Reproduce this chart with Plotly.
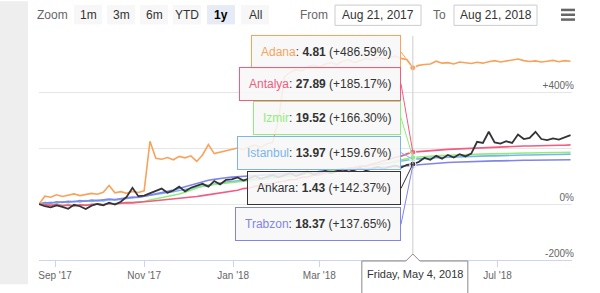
import plotly.graph_objects as go
import pandas as pd

# ---------------- data ----------------
START = "2017-08-21"
END = "2018-08-21"
dates = pd.date_range(START, periods=92, freq="4D")

series_names = ["Adana", "Antalya", "Izmir", "Istanbul", "Ankara", "Trabzon"]
series_colors = ["#f7a35c", "#f15c80", "#90ed7d", "#7cb5ec", "#333338", "#8085e9"]

adana = [0, 28, 24, 33, 27, 31, 36, 30, 34, 38,
         35, 42, 66, 40, 44, 38, 45, 41, 47,
         224,
         163, 160, 166, 158, 170, 165, 172, 152, 175, 212, 180, 185, 190,
         196, 200, 194, 205, 210, 202, 215, 220,
         300, 455, 470, 480, 475, 490, 495, 488, 500, 505, 498, 510, 515, 505, 512, 520, 515, 525, 518, 522, 528, 520, 515,
         486.59,
         495, 498, 500, 510, 503, 505, 500, 507, 504, 502, 506, 503, 508, 512, 507, 510, 514, 518, 512, 509, 511, 507, 510, 513, 508, 512, 510]

antalya = [0, -3, -5, -2, -6, -4, -7, -3, -5, -2, 0, -3, 2, 0, 3, 5, 4, 7, 8,
           10, 12, 14, 15, 18, 20, 22, 25, 27, 30, 33, 36, 40, 43,
           47, 49, 55, 57, 63, 65, 71, 73, 79, 81, 87, 88, 95, 97, 103, 104, 111, 113, 119, 120, 127, 129, 135, 136, 143, 147, 155, 159, 167, 171, 179,
           185.17,
           187, 189, 190, 192, 193, 195, 196, 197, 199, 200, 201, 202, 203, 203, 204, 205, 205, 206, 207, 207, 208, 208, 209, 209, 210, 210, 211]

izmir = [0, -2, -4, -1, -5, -3, -6, -2, -4, -1, 0, -2, 1, 2, 3, 4, 6, 7, 9,
         14, 18, 22, 26, 30, 36, 42, 50, 58, 64, 68, 70, 72, 74,
         76, 78, 80, 83, 85, 88, 90, 93, 95, 98, 100, 103, 105, 108, 110, 113, 115, 118, 120, 123, 126, 129, 132, 135, 138, 141, 145, 149, 153, 158, 163,
         166.30,
         168, 170, 171, 172, 173, 174, 175, 176, 177, 177, 178, 178, 179, 179, 180, 180, 181, 181, 182, 182, 183, 183, 183, 184, 184, 185, 185]

istanbul = [0, 4, 6, 3, 8, 5, 10, 7, 12, 9, 13, 11, 15, 14, 18, 20, 22, 25, 27,
            30, 33, 36, 40, 44, 48, 52, 56, 60, 64, 68, 72, 75, 78,
            80, 83, 85, 88, 90, 93, 95, 97, 100, 102, 104, 107, 109, 111, 114, 116, 118, 121, 123, 125, 128, 130, 133, 135, 138, 141, 144, 147, 151, 155, 158,
            159.67,
            161, 163, 164, 165, 166, 167, 168, 169, 170, 170, 171, 171, 172, 172, 173, 173, 174, 174, 175, 175, 176, 176, 176, 177, 177, 178, 178]

ankara = [0, -8, -12, -5, -10, -17, -3, -8, -18, -6, 0, -5, 5, -2, 8, 25, 58, 28, 30,
          38, 45, 55, 40, 48, 62, 45, 58, 65, 72, 62, 82, 70, 86,
          88, 95, 84, 92, 100, 90, 98, 104, 95, 102, 110, 100, 108, 115, 105, 112, 118, 110, 116, 124, 115, 122, 128, 120, 126, 132, 125, 133, 138, 130, 140,
          142.37,
          150, 165, 158, 172, 162, 175, 166, 178, 170, 180,
          222, 218, 258, 220, 216, 224, 218, 248, 232, 236, 258, 232, 228, 234, 230, 238, 246]

trabzon = [0, 5, 3, 8, 6, 10, 8, 12, 10, 14, 12, 15, 18, 16, 20, 22, 25, 23, 28,
           32, 35, 40, 45, 50, 56, 62, 68, 74, 80, 85, 88, 92, 94,
           96, 97, 99, 100, 102, 103, 104, 106, 107, 108, 110, 111, 112, 114, 115, 116, 118, 119, 120, 122, 123, 124, 126, 127, 128, 130, 131, 133, 134, 136, 137,
           137.65,
           140, 142, 144, 146, 147, 148, 149, 150, 151, 152, 152, 153, 153, 154, 154, 155, 155, 155, 156, 156, 156, 157, 157, 157, 158, 158, 158]

series_values = [adana, antalya, izmir, istanbul, ankara, trabzon]

tooltip_date = "2018-05-04"
tooltip_raw = [4.81, 27.89, 19.52, 13.97, 1.43, 18.37]

# the May '18 label is hidden under the crosshair label in the reference
x_tick_dates = ["2017-09-01", "2017-11-01", "2018-01-01", "2018-03-01", "2018-05-01", "2018-07-01"]
x_tick_labels = ["Sep '17", "Nov '17", "Jan '18", "Mar '18", "", "Jul '18"]
y_ticks = [-200, 0, 200, 400, 600]
y_tick_labels = ["-200%", "0%", "", "+400%", ""]

zoom_buttons = ["1m", "3m", "6m", "YTD", "1y", "All"]
selected_button = "1y"

# ---------------- layout geometry (pixels) ----------------
W, H = 600, 293
ML, MR, MT, MB = 39, 28, 36, 25
PW = W - ML - MR
PH = H - MT - MB
YMIN, YMAX = -200, 600
FONT = "Liberation Sans, Arial, sans-serif"


def pxx(px):
    return (px - ML) / PW


def pxy(py):
    return (H - MB - py) / PH


fig = go.Figure()

draw_order = [3, 5, 2, 1, 0, 4]
for k in draw_order:
    fig.add_trace(go.Scatter(
        x=dates, y=series_values[k], mode="lines", name=series_names[k],
        line=dict(color=series_colors[k], width=1.6 if k != 4 else 1.8),
        hoverinfo="skip", showlegend=False))

i_tt = list(dates).index(pd.Timestamp(tooltip_date))

# hover markers
for k in draw_order:
    fig.add_trace(go.Scatter(
        x=[dates[i_tt]], y=[series_values[k][i_tt]], mode="markers",
        marker=dict(color=series_colors[k], size=6, line=dict(color="white", width=1)),
        hoverinfo="skip", showlegend=False))

# crosshair
fig.add_shape(type="line", xref="x", yref="paper", x0=tooltip_date, x1=tooltip_date,
              y0=0, y1=1, line=dict(color="#cccccc", width=1), layer="above")

# split tooltip boxes
t0 = pd.Timestamp(START)
t1 = pd.Timestamp(END)
head_x_px = ML + (pd.Timestamp(tooltip_date) - t0) / (t1 - t0) * PW
box_center_px = [53, 88, 122, 157, 193, 229]
box_right_px = 401
for k in range(len(series_names)):
    val = series_values[k][i_tt]
    head_y_px = H - MB - (val - YMIN) / (YMAX - YMIN) * PH
    txt = (f"<span style='color:{series_colors[k]}'>{series_names[k]}</span>: "
           f"<b>{tooltip_raw[k]:.2f}</b> (+{val:.2f}%)")
    fig.add_annotation(
        x=tooltip_date, y=val, xref="x", yref="y", text=txt,
        showarrow=True, arrowhead=0, arrowwidth=1, arrowcolor=series_colors[k],
        ax=box_right_px - head_x_px, ay=box_center_px[k] - head_y_px,
        xanchor="right", yanchor="middle",
        bordercolor=series_colors[k], borderwidth=1, borderpad=9,
        bgcolor="rgba(247,247,247,0.88)",
        font=dict(size=12, color="#333333", family=FONT))

# crosshair label on x axis
fig.add_shape(type="path", xref="x", yref="paper", xsizemode="pixel", ysizemode="pixel",
              xanchor=tooltip_date, yanchor=0,
              path="M -51,-40 L -51,-1 L -7,-1 L 0,6 L 7,-1 L 55,-1 L 55,-40 Z",
              fillcolor="white", line=dict(color="#8a8a8a", width=1), layer="above")
fig.add_annotation(x=tooltip_date, y=0, xref="x", yref="paper", yshift=-14, xshift=2,
                   xanchor="center", yanchor="middle",
                   text=pd.Timestamp(tooltip_date).strftime("%A, %b %-d, %Y"),
                   showarrow=False, font=dict(size=11, color="#333333", family=FONT))

# left gray strip
fig.add_shape(type="rect", xref="paper", yref="paper", x0=pxx(0), x1=pxx(28),
              y0=pxy(H), y1=pxy(0), fillcolor="#eeeeee", line=dict(width=0), layer="below")


def label(px, py, text, color, size=12):
    fig.add_annotation(x=pxx(px), y=pxy(py), xref="paper", yref="paper", text=text,
                       xanchor="center", yanchor="middle", showarrow=False,
                       font=dict(size=size, color=color, family=FONT))


# toolbar
label(52, 14, "Zoom", "#666666")
btn_centers = [88, 121, 154, 187, 221, 255]
for lbl, cx in zip(zoom_buttons, btn_centers):
    sel = lbl == selected_button
    fig.add_shape(type="rect", xref="paper", yref="paper", x0=pxx(cx - 14), x1=pxx(cx + 14),
                  y0=pxy(24), y1=pxy(4), fillcolor="#e6ebf5" if sel else "#f7f7f7",
                  line=dict(width=0), layer="above")
    label(cx, 14, f"<b>{lbl}</b>" if sel else lbl, "#000000" if sel else "#333333")

label(314, 14, "From", "#666666")
label(439, 14, "To", "#666666")
for (x0, x1), d in zip([(335, 421), (454, 537)], [START, END]):
    fig.add_shape(type="rect", xref="paper", yref="paper", x0=pxx(x0), x1=pxx(x1),
                  y0=pxy(25), y1=pxy(4), fillcolor="white",
                  line=dict(color="#cccccc", width=1), layer="above")
    label((x0 + x1) / 2, 14, pd.Timestamp(d).strftime("%b %-d, %Y"), "#333333")
for yy in [9, 14, 19]:
    fig.add_shape(type="line", xref="paper", yref="paper", x0=pxx(561), x1=pxx(575),
                  y0=pxy(yy), y1=pxy(yy), line=dict(color="#666666", width=2.5), layer="above")

fig.update_xaxes(
    type="date", range=[START, END], tickvals=x_tick_dates, ticktext=x_tick_labels,
    showgrid=False, showline=True, linecolor="#ccd6eb", linewidth=1,
    ticks="outside", ticklen=6, tickcolor="#ccd6eb",
    tickfont=dict(size=10, color="#666666", family=FONT), zeroline=False)
fig.update_yaxes(
    range=[YMIN, YMAX], tickvals=y_ticks, ticktext=y_tick_labels, side="right",
    ticklabelposition="inside top", ticklabelstandoff=-5,
    showgrid=True, gridcolor="#e6e6e6", gridwidth=1,
    zeroline=False, showline=False, ticks="",
    tickfont=dict(size=10, color="#666666", family=FONT))

fig.update_layout(
    width=W, height=H, margin=dict(l=ML, r=MR, t=MT, b=MB),
    paper_bgcolor="white", plot_bgcolor="white", showlegend=False,
    hovermode=False, font=dict(family=FONT))

fig.write_html("out.html")
